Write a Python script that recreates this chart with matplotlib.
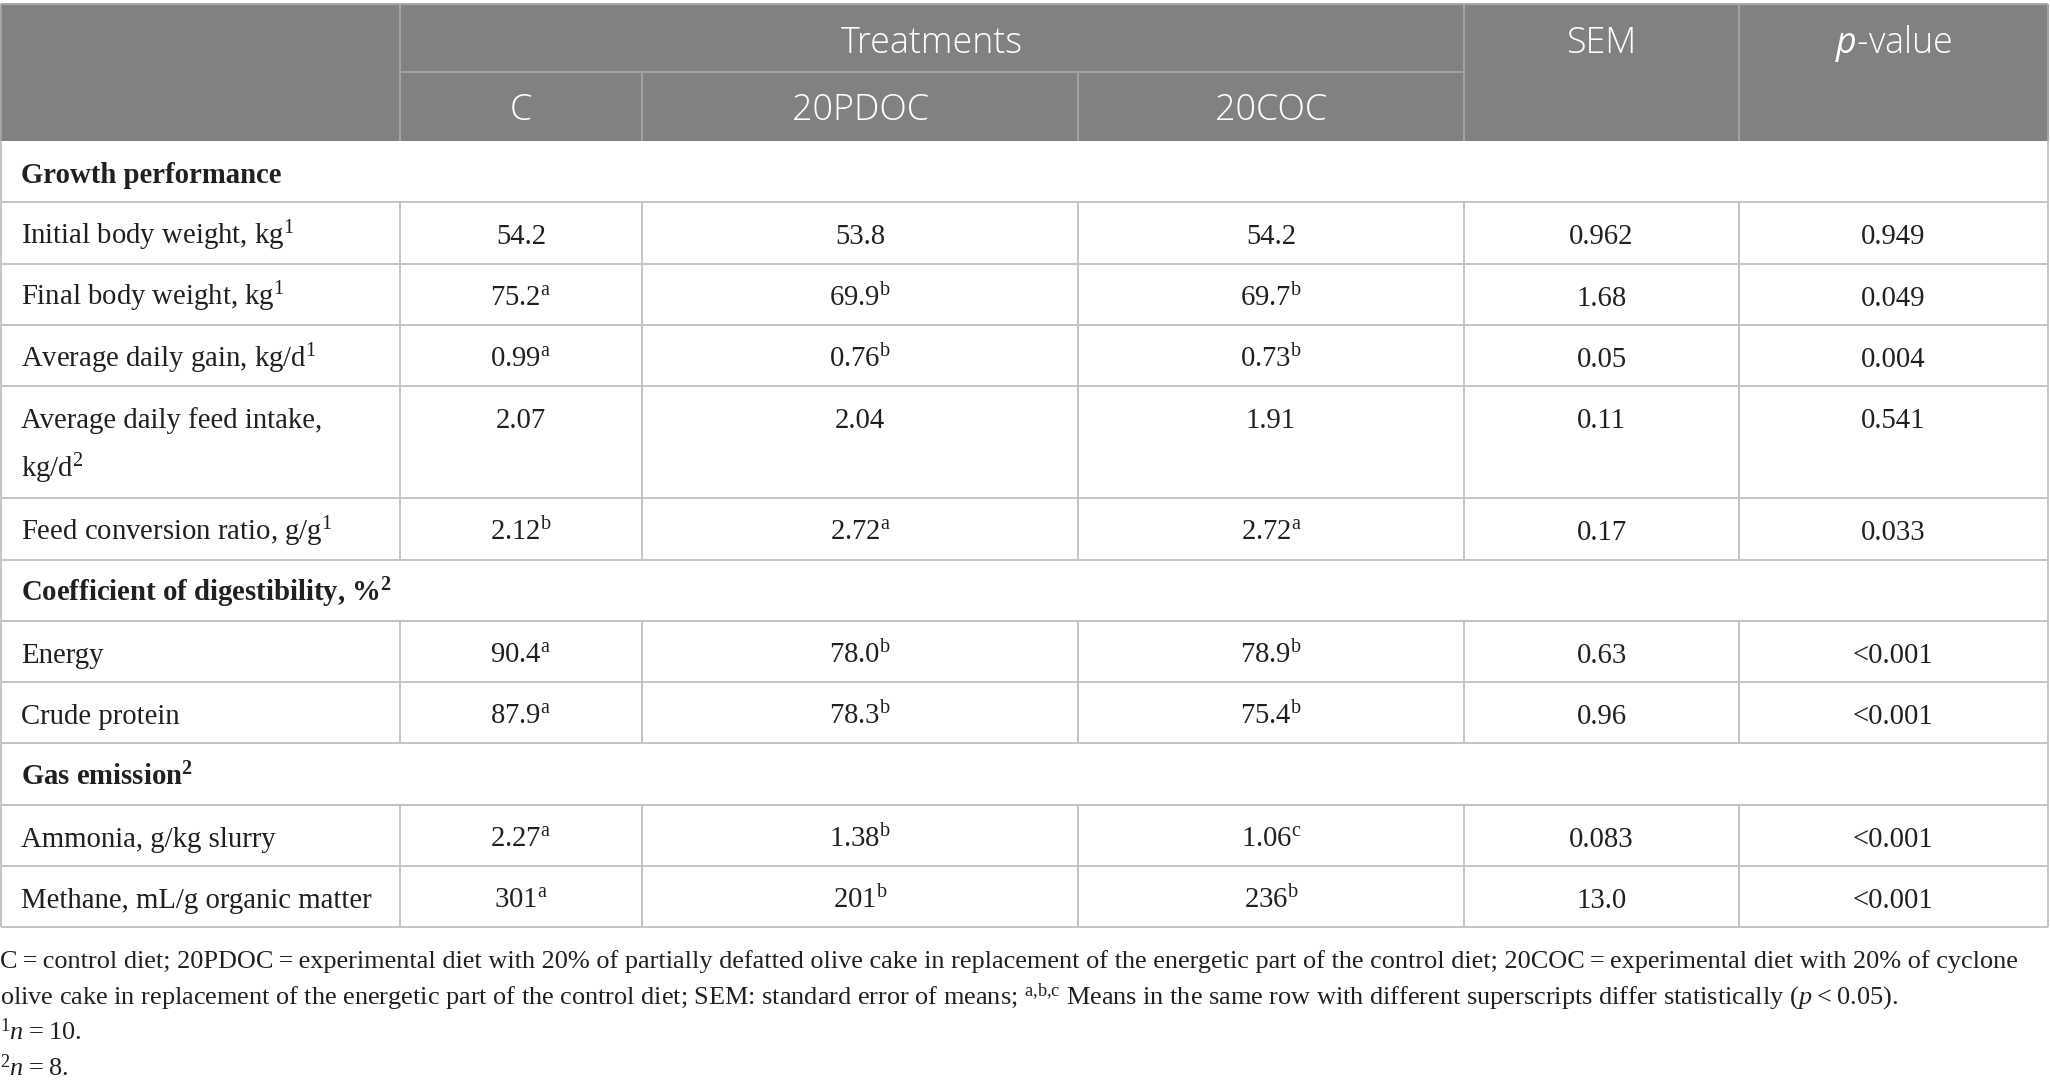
import matplotlib
matplotlib.use("Agg")
import matplotlib.pyplot as plt
from matplotlib.patches import Rectangle

plt.rcParams['mathtext.fontset'] = 'custom'
plt.rcParams['mathtext.rm'] = 'Liberation Serif'
plt.rcParams['mathtext.it'] = 'Liberation Serif:italic'
plt.rcParams['mathtext.bf'] = 'Liberation Serif:bold'
plt.rcParams['mathtext.sf'] = 'Open Sans:italic'

# ---- table content ----
treatments = ['C', '20PDOC', '20COC']
sections = ['Growth performance', 'Coefficient of digestibility, %', 'Gas emission']
section_sup = ['', '2', '2']
row_section = [0, 0, 0, 0, 0, 1, 1, 2, 2]
row_labels = ['Initial body weight, kg', 'Final body weight, kg', 'Average daily gain, kg/d',
              'Average daily feed intake,\nkg/d', 'Feed conversion ratio, g/g', 'Energy',
              'Crude protein', 'Ammonia, g/kg slurry', 'Methane, mL/g organic matter']
label_sup = ['1', '1', '1', '2', '1', '', '', '', '']
c_vals = ['54.2', '75.2', '0.99', '2.07', '2.12', '90.4', '87.9', '2.27', '301']
c_sup = ['', 'a', 'a', '', 'b', 'a', 'a', 'a', 'a']
pdoc_vals = ['53.8', '69.9', '0.76', '2.04', '2.72', '78.0', '78.3', '1.38', '201']
pdoc_sup = ['', 'b', 'b', '', 'a', 'b', 'b', 'b', 'b']
coc_vals = ['54.2', '69.7', '0.73', '1.91', '2.72', '78.9', '75.4', '1.06', '236']
coc_sup = ['', 'b', 'b', '', 'a', 'b', 'b', 'c', 'b']
sem_vals = ['0.962', '1.68', '0.05', '0.11', '0.17', '0.63', '0.96', '0.083', '13.0']
p_vals = ['0.949', '0.049', '0.004', '0.541', '0.033', '<0.001', '<0.001', '<0.001', '<0.001']

footnotes = [
    'C\u2009=\u2009control diet; 20PDOC\u2009=\u2009experimental diet with 20% of partially defatted olive cake '
    'in replacement of the energetic part of the control diet; 20COC\u2009=\u2009experimental diet with 20% of cyclone',
    'olive cake in replacement of the energetic part of the control diet; SEM: standard error of means; '
    '$^{\\rm a{,}b{,}c}$ Means in the same row with different superscripts differ statistically '
    '($\\mathit{p}$\u2009<\u20090.05).',
    '$^{\\rm 1}\\mathit{n}$\u2009=\u200910.',
    '$^{\\rm 2}\\mathit{n}$\u2009=\u20098.',
]

# ---- layout (pixels) ----
W, H = 2050, 1092
col_edges = [1, 400, 642, 1078, 1464, 1739, 2048]
head_top, head_mid, head_bot = 4, 72, 141
single_h, double_h = 61.3, 112
header_bg = '#818181'
grid_col = '#c4c4c4'
text_col = '#231f20'
serif = ['Liberation Serif', 'DejaVu Serif']
sans = ['Open Sans', 'DejaVu Sans']
body_fs = 20.7
head_fs = 25.8
foot_fs = 18.9

fig = plt.figure(figsize=(W / 100, H / 100), dpi=100)
ax = fig.add_axes([0, 0, 1, 1])
ax.set_xlim(0, W)
ax.set_ylim(H, 0)
ax.axis('off')


def hline(y, x0=col_edges[0], x1=col_edges[-1], color=grid_col):
    ax.plot([x0, x1], [y, y], color=color, lw=1.4, solid_capstyle='butt')


def vline(x, y0, y1, color=grid_col):
    ax.plot([x, x], [y0, y1], color=color, lw=1.4, solid_capstyle='butt')


def sup(s, style='rm'):
    return f'$^{{\\{style} {s}}}$' if s else ''


# header block
ax.add_patch(Rectangle((col_edges[0], head_top), col_edges[-1] - col_edges[0], head_bot - head_top,
                       facecolor=header_bg, edgecolor='none'))
head_line = '#a3a3a3'
hline(head_top, color='#a8a8a8')
hline(head_mid, col_edges[1], col_edges[4], color=head_line)
for x in [col_edges[1], col_edges[4], col_edges[5]]:
    vline(x, head_top, head_bot, color=head_line)
for x in [col_edges[2], col_edges[3]]:
    vline(x, head_mid, head_bot, color=head_line)
vline(col_edges[0], head_top, head_bot, color=head_line)
vline(col_edges[-1], head_top, head_bot, color=head_line)

head_kw = dict(ha='center', va='baseline', color='white', fontsize=head_fs, family=sans,
               fontweight='light')
ax.text((col_edges[1] + col_edges[4]) / 2, head_top + 49, 'Treatments', **head_kw)
ax.text((col_edges[4] + col_edges[5]) / 2, head_top + 49, 'SEM', **head_kw)
ax.text((col_edges[5] + col_edges[6]) / 2, head_top + 49, '$\\mathsf{p}$-value', **head_kw)
for i, t in enumerate(treatments):
    ax.text((col_edges[i + 1] + col_edges[i + 2]) / 2, head_mid + 48, t, **head_kw)

# body rows
columns = [(c_vals, c_sup), (pdoc_vals, pdoc_sup), (coc_vals, coc_sup),
           (sem_vals, None), (p_vals, None)]
y = head_bot
current = -1
for r, label in enumerate(row_labels):
    if row_section[r] != current:
        current = row_section[r]
        top = y
        y += single_h
        hline(y)
        vline(col_edges[0], top, y)
        vline(col_edges[-1], top, y)
        ax.text(21, top + 42, sections[current] + sup(section_sup[current], 'bf'), ha='left',
                va='baseline', fontsize=body_fs, fontweight='bold', color=text_col, family=serif)
    top = y
    lines = label.split('\n')
    y += single_h if len(lines) == 1 else double_h
    hline(y)
    for x in col_edges:
        vline(x, top, y)
    for k, ln in enumerate(lines):
        txt = ln + (sup(label_sup[r]) if k == len(lines) - 1 else '')
        ax.text(21, top + 42 + 49 * k, txt, ha='left', va='baseline', fontsize=body_fs,
                color=text_col, family=serif)
    for c, (vals, sups) in enumerate(columns):
        txt = vals[r] + (sup(sups[r]) if sups else '')
        ax.text((col_edges[c + 1] + col_edges[c + 2]) / 2, top + 42, txt, ha='center', va='baseline',
                fontsize=body_fs, color=text_col, family=serif)

# footnotes
for k, fn in enumerate(footnotes):
    ax.text(0, 968 + 36 * k, fn, ha='left', va='baseline', fontsize=foot_fs, color=text_col,
            family=serif)

fig.savefig('out.png', dpi=100, facecolor='white')
